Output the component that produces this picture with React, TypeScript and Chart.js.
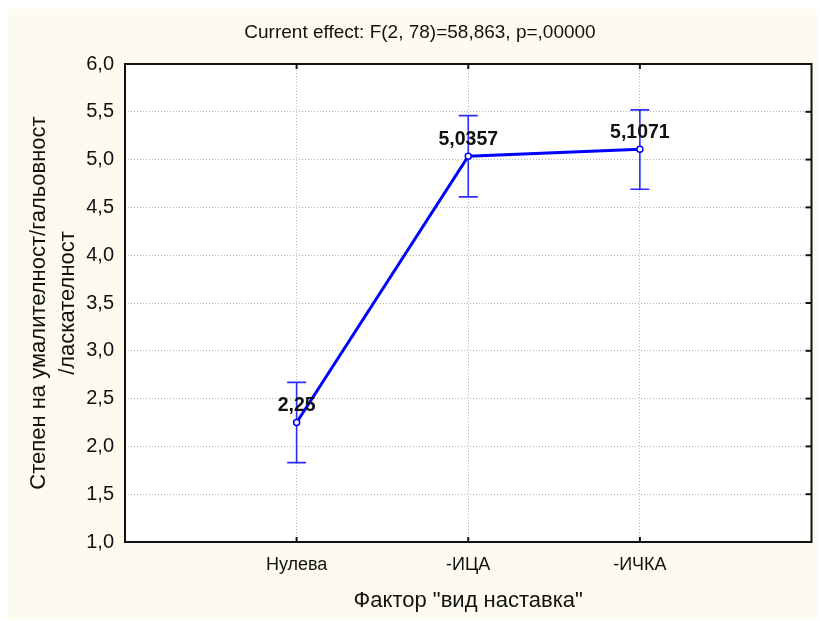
import React, { useEffect, useRef } from 'react';
import { Chart, registerables } from 'chart.js';

Chart.register(...registerables);

const categories = ['Нулева', '-ИЦА', '-ИЧКА'];
const categoryPositions = [1, 2, 3];
const means = [2.25, 5.0357, 5.1071];
const upperCI = [2.67, 5.46, 5.52];
const lowerCI = [1.83, 4.61, 4.69];
const meanLabels = ['2,25', '5,0357', '5,1071'];
const yMin = 1;
const yMax = 6;
const yStep = 0.5;
const titleText = 'Current effect: F(2, 78)=58,863, p=,00000';
const yTitle = ['Степен на умалителност/гальовност', '/ласкателност'];
const xTitle = 'Фактор "вид наставка"';

const FONT = '"Liberation Sans", Arial, sans-serif';

const overlay = {
  id: 'overlay',
  beforeDraw(chart: any) {
    const { ctx, chartArea } = chart;
    ctx.save();
    ctx.fillStyle = '#ffffff';
    ctx.fillRect(chartArea.left, chartArea.top, chartArea.right - chartArea.left, chartArea.bottom - chartArea.top);
    ctx.font = '19px ' + FONT;
    ctx.fillStyle = '#111111';
    ctx.textAlign = 'center';
    ctx.textBaseline = 'middle';
    ctx.fillText(titleText, 412, 24);
    ctx.restore();
  },
  beforeDatasetsDraw(chart: any) {
    const { ctx, scales } = chart;
    const x = scales.x;
    const y = scales.y;
    ctx.save();
    ctx.strokeStyle = '#2c2cff';
    ctx.lineWidth = 1.6;
    categoryPositions.forEach((c, i) => {
      const px = x.getPixelForValue(c);
      const top = y.getPixelForValue(upperCI[i]);
      const bot = y.getPixelForValue(lowerCI[i]);
      ctx.beginPath();
      ctx.moveTo(px, top);
      ctx.lineTo(px, bot);
      ctx.moveTo(px - 9.5, top);
      ctx.lineTo(px + 9.5, top);
      ctx.moveTo(px - 9.5, bot);
      ctx.lineTo(px + 9.5, bot);
      ctx.stroke();
    });
    ctx.restore();
  },
  afterDatasetsDraw(chart: any) {
    const { ctx, chartArea, scales } = chart;
    const { left, top, right, bottom } = chartArea;
    const x = scales.x;
    const y = scales.y;
    ctx.save();
    ctx.strokeStyle = '#111111';
    ctx.lineWidth = 2;
    ctx.strokeRect(left, top, right - left, bottom - top);
    y.ticks.forEach((t: any) => {
      const py = y.getPixelForValue(t.value);
      ctx.beginPath();
      ctx.moveTo(right, py);
      ctx.lineTo(right - 6, py);
      ctx.stroke();
    });
    categoryPositions.forEach((c) => {
      const px = x.getPixelForValue(c);
      ctx.beginPath();
      ctx.moveTo(px, top);
      ctx.lineTo(px, top + 5);
      ctx.moveTo(px, bottom);
      ctx.lineTo(px, bottom - 5);
      ctx.stroke();
    });
    ctx.font = 'bold 19.5px ' + FONT;
    ctx.fillStyle = '#111111';
    ctx.textAlign = 'center';
    ctx.textBaseline = 'middle';
    categoryPositions.forEach((c, i) => {
      const px = x.getPixelForValue(c);
      const py = y.getPixelForValue(means[i]);
      ctx.fillText(meanLabels[i], px, py - 17);
    });
    ctx.restore();
  },
};

export default function App() {
  const ref = useRef<HTMLCanvasElement | null>(null);
  useEffect(() => {
    if (!ref.current) return;
    const chart = new Chart(ref.current, {
      type: 'line',
      data: {
        datasets: [
          {
            data: categoryPositions.map((c, i) => ({ x: c, y: means[i] })),
            borderColor: '#0000ff',
            borderWidth: 3,
            pointRadius: 3,
            pointBackgroundColor: '#ffffff',
            pointBorderColor: '#0000ff',
            pointBorderWidth: 1.5,
            tension: 0,
            fill: false,
          },
        ],
      },
      options: {
        responsive: false,
        animation: false,
        layout: { padding: { left: 0, right: 0, top: 55, bottom: 0 } },
        plugins: {
          legend: { display: false },
          tooltip: { enabled: false },
          title: { display: false },
        },
        scales: {
          x: {
            type: 'linear',
            min: 0,
            max: 4,
            afterFit: (s: any) => {
              s.height = 78;
              s.paddingRight = 0;
              s.paddingLeft = 0;
              s.paddingTop = 0;
              s.paddingBottom = 0;
            },
            ticks: {
              stepSize: 1,
              autoSkip: false,
              maxRotation: 0,
              color: '#111111',
              padding: 12.5,
              font: { family: FONT, size: 18 },
              callback: (v: any) => categories[Number(v) - 1] ?? '',
            },
            grid: {
              drawTicks: false,
              lineWidth: 1,
              color: (c: any) =>
                c.tick && c.tick.value >= 1 && c.tick.value <= 3 ? '#b5b5b5' : 'rgba(0,0,0,0)',
            },
            border: { display: false, dash: [1, 2] },
            title: {
              display: true,
              text: xTitle,
              color: '#111111',
              font: { family: FONT, size: 22, lineHeight: 1.2 },
              padding: { top: 0, bottom: 5.5 },
            },
          },
          y: {
            type: 'linear',
            min: yMin,
            max: yMax,
            afterFit: (s: any) => {
              s.width = 117;
              s.paddingRight = 0;
              s.paddingLeft = 0;
            },
            ticks: {
              stepSize: yStep,
              color: '#111111',
              padding: 11,
              font: { family: FONT, size: 20 },
              callback: (v: any) => Number(v).toFixed(1).replace('.', ','),
            },
            grid: {
              drawTicks: false,
              lineWidth: 1,
              color: (c: any) =>
                c.tick && c.tick.value > yMin && c.tick.value < yMax ? '#b5b5b5' : 'rgba(0,0,0,0)',
            },
            border: { display: false, dash: [1, 2] },
            title: {
              display: true,
              text: yTitle,
              color: '#111111',
              font: { family: FONT, size: 22, lineHeight: '29px' },
              padding: { top: 16, bottom: 0 },
            },
          },
        },
      } as any,
      plugins: [overlay],
    });
    return () => chart.destroy();
  }, []);

  return (
    <div
      style={{
        position: 'fixed',
        left: 8,
        top: 9,
        width: 809,
        height: 611,
        background: '#fdfbef',
      }}
    >
      <canvas ref={ref} width={809} height={611} style={{ display: 'block', width: 809, height: 611 }} />
    </div>
  );
}
